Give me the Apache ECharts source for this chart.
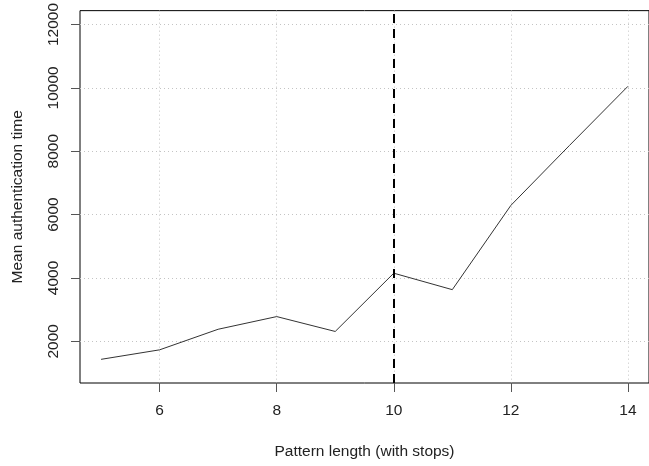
<!DOCTYPE html>
<html>
<head>
<meta charset="utf-8">
<script src="https://cdn.jsdelivr.net/npm/echarts@6/dist/echarts.min.js"></script>
<style>html,body{margin:0;padding:0;background:#fff;}#c{width:649px;height:466px;}</style>
</head>
<body>
<div id="c"></div>
<script>
var patternLength = [5, 6, 7, 8, 9, 10, 11, 12, 13, 14];
var meanAuthTime = [1430, 1730, 2380, 2780, 2310, 4150, 3630, 6290, 8180, 10050];
var xTicks = [6, 8, 10, 12, 14];
var yTicks = [2000, 4000, 6000, 8000, 10000, 12000];
var cutoffLength = 10;

var chart = echarts.init(document.getElementById('c'), null, {renderer: 'canvas'});
var font = 'Liberation Sans, Arial, sans-serif';
var fs = 15.5;
function plain(v) { return String(v); }
chart.setOption({
  animation: false,
  backgroundColor: '#ffffff',
  grid: {left: 80, top: 8, width: 572, height: 375, show: true, borderColor: '#000', borderWidth: 1, backgroundColor: 'transparent'},
  xAxis: {
    type: 'value', min: 4.64, max: 14.36,
    name: 'Pattern length (with stops)', nameLocation: 'middle', nameGap: 61,
    nameTextStyle: {fontFamily: font, fontSize: fs, color: '#222'},
    axisLine: {show: false},
    axisTick: {show: true, customValues: xTicks, length: 9, inside: false, lineStyle: {color: '#555'}},
    axisLabel: {customValues: xTicks, formatter: plain, margin: 20, fontFamily: font, fontSize: fs, color: '#222'},
    splitLine: {show: true, customValues: xTicks, lineStyle: {color: '#c4c4c4', type: [1, 3], width: 1}}
  },
  yAxis: {
    type: 'value', min: 683, max: 12439,
    name: 'Mean authentication time', nameLocation: 'middle', nameGap: 54, nameRotate: 90,
    nameTextStyle: {fontFamily: font, fontSize: fs, color: '#222'},
    axisLine: {show: false},
    axisTick: {show: true, customValues: yTicks, length: 9, inside: false, lineStyle: {color: '#555'}},
    axisLabel: {customValues: yTicks, formatter: plain, rotate: 90, margin: 18, fontFamily: font, fontSize: fs, color: '#222'},
    splitLine: {show: true, customValues: yTicks, lineStyle: {color: '#c4c4c4', type: [1, 3], width: 1}}
  },
  series: [{
    type: 'line',
    data: patternLength.map(function (x, i) { return [x, meanAuthTime[i]]; }),
    symbol: 'none',
    lineStyle: {color: '#333', width: 1},
    markLine: {
      silent: true, symbol: 'none', label: {show: false},
      lineStyle: {color: '#000', width: 2, type: [9, 6]},
      data: [{xAxis: cutoffLength}]
    }
  }]
});
</script>
</body>
</html>
